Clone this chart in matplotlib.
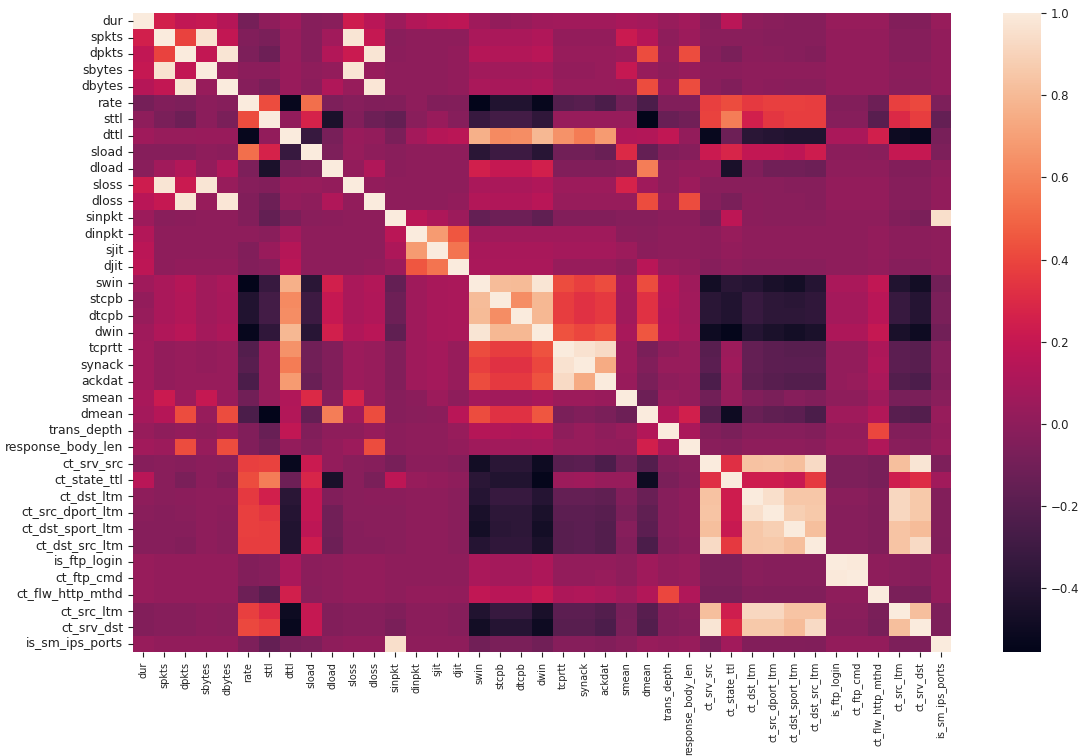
import matplotlib
matplotlib.use("Agg")
import matplotlib.pyplot as plt
import numpy as np
import seaborn as sns

labels = ["dur", "spkts", "dpkts", "sbytes", "dbytes", "rate", "sttl", "dttl", "sload", "dload",
          "sloss", "dloss", "sinpkt", "dinpkt", "sjit", "djit", "swin", "stcpb", "dtcpb", "dwin",
          "tcprtt", "synack", "ackdat", "smean", "dmean", "trans_depth", "response_body_len",
          "ct_srv_src", "ct_state_ttl", "ct_dst_ltm", "ct_src_dport_ltm", "ct_dst_sport_ltm",
          "ct_dst_src_ltm", "is_ftp_login", "ct_ftp_cmd", "ct_flw_http_mthd", "ct_src_ltm",
          "ct_srv_dst", "is_sm_ips_ports"]

# upper triangle of the correlation matrix, each row starts right after the diagonal
dur = [.25, .18, .2, .14, -.09, 0, .06, -.03, -.02, .23,
       .15, .05, .13, .16, .17, .06, .02, .03, .06, .07,
       .07, .07, .09, .08, .03, .07, -.03, .15, 0, -.02,
       -.03, -.03, .03, .03, .03, -.04, -.04, .03]
spkts = [.39, .96, .19, -.05, -.07, .03, -.03, .07, .97, .2,
         -.02, 0, 0, 0, .1, .1, .1, .12, .02, .02,
         .02, .22, .14, 0, .05, -.02, -.02, -.02, -.03, -.03,
         -.03, .02, .02, .02, -.03, -.03, .01]
dpkts = [.19, .97, -.06, -.12, .03, -.03, .13, .22, .97, -.01,
         0, 0, .01, .14, .13, .13, .15, .03, .03, .03,
         .05, .42, .02, .42, -.03, -.07, -.01, -.02, -.03, -.04,
         .02, .02, .02, -.03, -.03, .01]
sbytes = [.03, -.01, -.01, .04, 0, .02, .97, .03, 0, 0,
          0, .01, .07, .07, .07, .08, .02, .02, .03, .2,
          .03, 0, .03, -.01, -.01, 0, 0, 0, 0, .02,
          .02, .02, -.01, -.01, .01]
dbytes = [-.03, -.07, .04, -.01, .12, .03, .98, 0, 0, 0,
          .01, .1, .09, .09, .11, .03, .03, .03, .04, .42,
          .04, .42, -.02, -.05, 0, -.01, -.02, -.02, .02, .02,
          .02, -.02, -.02, .01]
rate = [.42, -.53, .53, -.06, -.03, -.05, -.04, 0, -.05, -.04,
        -.55, -.42, -.42, -.53, -.22, -.2, -.25, -.1, -.25, -.05,
        -.05, .38, .42, .36, .38, .38, .37, -.04, -.04, -.12,
        .38, .41, -.06]
sttl = [.01, .27, -.44, -.04, -.12, -.16, -.02, .04, -.03, -.33,
        -.28, -.28, -.36, .03, .03, .03, .03, -.55, -.14, -.1,
        .39, .58, .25, .35, .37, .37, -.03, -.03, -.2, .3,
        .37, -.15]
dttl = [-.33, -.08, .04, .02, -.07, .08, .14, .16, .76, .62,
        .63, .79, .65, .57, .68, .12, .13, .18, .02, -.52,
        -.12, -.38, -.4, -.42, -.42, .1, .1, .25, -.5, -.52,
        -.08]
sload = [-.06, .03, 0, -.02, 0, 0, 0, -.38, -.3, -.3,
         -.39, -.1, -.1, -.13, .3, -.15, -.05, -.03, .22, .28,
         .19, .19, .17, .23, -.01, -.01, -.02, .2, .2, -.06]
dload = [.02, .12, -.01, 0, 0, 0, .25, .2, .2, .25,
         -.05, -.05, -.05, -.03, .58, 0, .02, .02, -.45, -.05,
         -.1, -.1, -.12, 0, 0, 0, -.04, -.04, 0]
sloss = [.01, 0, 0, 0, 0, .1, .1, .1, .12, .05,
         .05, .05, .27, .06, 0, .05, -.02, -.02, -.02, -.02,
         -.03, -.03, .02, .02, .02, -.03, -.03, .01]
dloss = [0, 0, 0, .01, .13, .12, .12, .15, .03, .03,
         .03, .03, .42, .03, .42, -.03, -.07, -.01, -.02, -.02,
         -.03, .02, .02, .02, -.03, -.03, .01]
sinpkt = [.16, .11, .05, -.15, -.12, -.12, -.17, -.04, -.04, -.04,
          -.03, -.03, -.01, -.01, -.08, .17, -.01, -.02, -.02, -.02,
          0, 0, 0, -.05, -.07, .95]
dinpkt = [.68, .45, .06, .06, .06, .06, .06, .06, .06, -.01,
          -.02, 0, 0, -.01, .03, 0, 0, 0, 0, 0,
          0, .02, -.01, -.01, 0]
sjit = [.55, .09, .09, .09, .09, .08, .08, .08, .05, -.01,
        0, 0, -.01, .02, 0, 0, 0, 0, 0, 0,
        .02, -.01, -.01, 0]
djit = [.1, .1, .1, .1, .03, .03, .03, 0, .15, .03,
        .02, -.03, 0, -.02, -.02, -.02, -.02, 0, 0, .01,
        -.03, -.03, 0]
swin = [.81, .8, .97, .42, .38, .42, .08, .42, .14, .06,
        -.48, -.38, -.4, -.45, -.47, -.4, .1, .1, .18, -.42,
        -.48, -.1]
stcpb = [.63, .79, .37, .33, .36, .07, .33, .13, .07, -.38,
         -.42, -.33, -.37, -.38, -.36, .08, .08, .15, -.33, -.4,
         -.07]
dtcpb = [.79, .37, .33, .36, .07, .33, .12, .07, -.38, -.42,
         -.33, -.37, -.37, -.36, .08, .08, .15, -.33, -.4, -.07]
dwin = [.44, .4, .44, .09, .45, .13, .08, -.5, -.54, -.4,
        -.44, -.47, -.44, .11, .11, .2, -.45, -.5, -.1]
tcprtt = [.96, .93, .05, -.07, 0, .03, -.2, .05, -.15, -.18,
          -.2, -.2, .02, .02, .11, -.18, -.2, -.03]
synack = [.74, .05, -.05, .03, .03, -.19, .06, -.15, -.18, -.19,
          -.19, .02, .02, .12, -.18, -.2, -.03]
ackdat = [.04, -.07, 0, .02, -.24, .03, -.17, -.2, -.22, -.22,
          .02, .03, .1, -.22, -.24, -.04]
smean = [-.12, .03, .01, -.1, .03, -.05, -.07, -.03, -.05, 0,
         0, .06, -.08, -.07, -.02]
dmean = [.13, .25, -.22, -.5, -.13, -.17, -.18, -.25, .06, .06,
         .13, -.2, -.22, .03]
trans_depth = [.1, -.04, -.07, -.03, -.03, -.03, -.04, .02, .02, .4,
               -.04, -.05, .02]
response_body_len = [-.02, -.03, 0, 0, 0, -.01, .03, .03, .12, -.02, -.03, .03]
ct_srv_src = [.32, .83, .84, .82, .93, -.06, -.06, -.08, .82, .97, -.06]
ct_state_ttl = [.23, .23, .21, .36, -.06, -.06, -.08, .24, .31, .07]
ct_dst_ltm = [.95, .85, .85, -.02, -.02, -.04, .92, .86, -.04]
ct_src_dport_ltm = [.88, .86, -.03, -.03, -.05, .92, .86, -.04]
ct_dst_sport_ltm = [.82, -.03, -.03, -.05, .84, .81, -.04]
ct_dst_src_ltm = [-.03, -.03, -.05, .84, .93, -.05]
is_ftp_login = [.99, 0, -.02, -.03, .02]
ct_ftp_cmd = [0, -.02, -.03, .02]
ct_flw_http_mthd = [-.07, -.08, .02]
ct_src_ltm = [.82, -.06]
ct_srv_dst = [-.06]

upper_rows = [dur, spkts, dpkts, sbytes, dbytes, rate, sttl, dttl, sload, dload, sloss, dloss,
              sinpkt, dinpkt, sjit, djit, swin, stcpb, dtcpb, dwin, tcprtt, synack, ackdat,
              smean, dmean, trans_depth, response_body_len, ct_srv_src, ct_state_ttl, ct_dst_ltm,
              ct_src_dport_ltm, ct_dst_sport_ltm, ct_dst_src_ltm, is_ftp_login, ct_ftp_cmd,
              ct_flw_http_mthd, ct_src_ltm, ct_srv_dst]

# mirror the triangle into the full matrix
n = len(labels)
corr = np.eye(n)
for i, row in enumerate(upper_rows):
    corr[i, i + 1:] = row
    corr[i + 1:, i] = row

W, H = 1088, 756
fig = plt.figure(figsize=(W / 100, H / 100), dpi=100)
ax = fig.add_axes([133 / W, 1 - 652 / H, 818.5 / W, 639 / H])
cax = fig.add_axes([1003 / W, 1 - 652 / H, 38 / W, 639 / H])

sns.heatmap(corr, ax=ax, cbar_ax=cax, vmin=-0.555, vmax=1.0,
            xticklabels=labels, yticklabels=labels)

# the picture is stretched sideways, so the two axes use different text sizes
ax.tick_params(axis="x", labelsize=7.0, labelrotation=90, length=3.5, colors="#222222")
ax.tick_params(axis="y", labelsize=8.9, labelrotation=0, length=3.5, colors="#222222")
cax.tick_params(labelsize=8.5, length=3.5, colors="#222222")
cax.set_yticks([-0.4, -0.2, 0.0, 0.2, 0.4, 0.6, 0.8, 1.0])
cax.set_yticklabels(["\u22120.4", "\u22120.2", "0.0", "0.2", "0.4", "0.6", "0.8", "1.0"])

fig.savefig("out.png", dpi=100)
